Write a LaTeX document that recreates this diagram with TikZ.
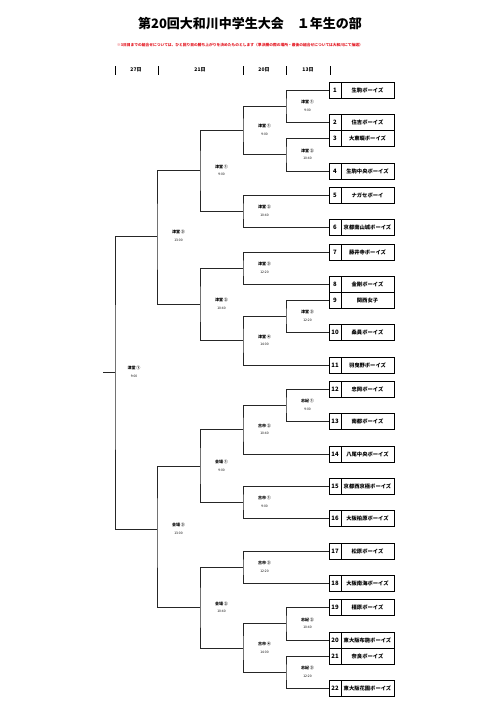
\documentclass[tikz,border=0pt]{standalone}
\usepackage{fontspec}
\usepackage{graphicx}
\newfontfamily\jpfont{Noto Sans CJK JP}
\usetikzlibrary{positioning}
\definecolor{notered}{HTML}{E3141E}
\definecolor{linegray}{HTML}{262626}
\tikzset{
  bracket/.style={linegray,line width=0.8pt},
  headbar/.style={black,line width=0.9pt},
  numcell/.style={draw,line width=0.9pt,minimum width=12,minimum height=16,inner sep=0pt,outer sep=0pt,
    font=\jpfont\bfseries\fontsize{6}{6}\selectfont},
  namecell/.style={draw,line width=0.9pt,minimum width=53,minimum height=16,inner sep=0pt,outer sep=0pt,
    font=\jpfont\bfseries\fontsize{5.3}{5.3}\selectfont},
  matchlbl/.style={align=center,inner sep=0pt,font=\jpfont\bfseries\fontsize{4}{7.5}\selectfont},
  headlbl/.style={inner sep=0pt,font=\jpfont\bfseries\fontsize{5}{5}\selectfont}
}
\newcommand{\mtime}[1]{{\mdseries\fontsize{3.3}{7.5}\selectfont #1}}

\begin{document}
\begin{tikzpicture}[x=1pt,y=-1pt]
\useasboundingbox (0,0) rectangle (500,716);
% title and note
\node[font=\jpfont\bfseries\fontsize{13}{13}\selectfont] (title) at (250,24) {第20回大和川中学生大会　１年生の部};
\node[text=notered,inner sep=0pt,font=\jpfont\bfseries] (note) at (240,45)
  {\resizebox{246pt}{!}{※3日目までの組合せについては、ひと回り目の勝ち上がりを決めたものとします（準決勝の際の場所・最後の組合せについては大和川にて抽選）}};
% day header
\foreach \x in {115,158,243,286,330}
  \draw[headbar] (\x,66) -- (\x,75);
\node[headlbl] (h27) at (136,70) {27日};
\node[headlbl] (h21) at (200,70) {21日};
\node[headlbl] (h20) at (264,70) {20日};
\node[headlbl] (h13) at (308,70) {13日};
% teams
\foreach \i/\y/\name in {1/90/生駒ボーイズ,2/122/住吉ボーイズ,3/138/大東畷ボーイズ,4/171/生駒中央ボーイズ,
  5/195/ナガセボーイ,6/227/京都南山城ボーイズ,7/252/藤井寺ボーイズ,8/284/金剛ボーイズ,9/300/関西女子,
  10/332/桑員ボーイズ,11/365/羽曳野ボーイズ,12/389/忠岡ボーイズ,13/421/南都ボーイズ,14/454/八尾中央ボーイズ,
  15/486/京都西京極ボーイズ,16/518/大阪柏原ボーイズ,17/551/松原ボーイズ,18/583/大阪南海ボーイズ,
  19/607/橿原ボーイズ,20/640/東大阪布施ボーイズ,21/656/奈良ボーイズ,22/688/東大阪花園ボーイズ}{
  \node[numcell] (n\i) at (335,\y) {\i};
  \node[namecell,right=0pt of n\i] (t\i) {\name};
}
% match junctions
\coordinate (a1) at (286,106);
\coordinate (a2) at (286,154.5);
\coordinate (a3) at (286,316);
\coordinate (a4) at (286,405);
\coordinate (a5) at (286,623.5);
\coordinate (a6) at (286,672);
\coordinate (b1) at (243,130);
\coordinate (b2) at (243,211);
\coordinate (b3) at (243,268);
\coordinate (b4) at (243,340.5);
\coordinate (b5) at (243,429.5);
\coordinate (b6) at (243,502);
\coordinate (b7) at (243,567);
\coordinate (b8) at (243,648);
\coordinate (c1) at (200,170.5);
\coordinate (c2) at (200,304);
\coordinate (c3) at (200,466);
\coordinate (c4) at (200,607.5);
\coordinate (d1) at (157,236);
\coordinate (d2) at (157,529);
\coordinate (e1) at (115,372);
\coordinate (champ) at (103,372);
% first round
\draw[bracket] (n1.west) -| (a1) |- (n2.west);
\draw[bracket] (n3.west) -| (a2) |- (n4.west);
\draw[bracket] (n9.west) -| (a3) |- (n10.west);
\draw[bracket] (n12.west) -| (a4) |- (n13.west);
\draw[bracket] (n19.west) -| (a5) |- (n20.west);
\draw[bracket] (n21.west) -| (a6) |- (n22.west);
% second round
\draw[bracket] (a1) -| (b1) |- (a2);
\draw[bracket] (n5.west) -| (b2) |- (n6.west);
\draw[bracket] (n7.west) -| (b3) |- (n8.west);
\draw[bracket] (a3) -| (b4) |- (n11.west);
\draw[bracket] (a4) -| (b5) |- (n14.west);
\draw[bracket] (n15.west) -| (b6) |- (n16.west);
\draw[bracket] (n17.west) -| (b7) |- (n18.west);
\draw[bracket] (a5) -| (b8) |- (a6);
% later rounds
\draw[bracket] (b1) -| (c1) |- (b2);
\draw[bracket] (b3) -| (c2) |- (b4);
\draw[bracket] (b5) -| (c3) |- (b6);
\draw[bracket] (b7) -| (c4) |- (b8);
\draw[bracket] (c1) -| (d1) |- (c2);
\draw[bracket] (c3) -| (d2) |- (c4);
\draw[bracket] (d1) -| (e1) |- (d2);
\draw[bracket] (e1) -- (champ);
% match labels
\foreach \c/\v/\t in {a1/津堂 ①/9:00,a2/津堂 ②/10:40,a3/津堂 ③/12:20,a4/志紀 ①/9:00,a5/志紀 ②/10:40,a6/志紀 ③/12:20,
  b1/津堂 ①/9:00,b2/津堂 ②/10:40,b3/津堂 ③/12:20,b4/津堂 ④/14:00,b5/古市 ②/10:40,b6/古市 ①/9:00,b7/古市 ③/12:20,b8/古市 ④/14:00,
  c1/津堂 ①/9:00,c2/津堂 ②/10:40,c3/会場 ①/9:00,c4/会場 ②/10:40,d1/津堂 ③/13:00,d2/会場 ③/13:00}
  \node[matchlbl,xshift=21.5] (l\c) at (\c) {\v\\\mtime{\t}};
\node[matchlbl,xshift=19] (le1) at (e1) {津堂 ①\\\mtime{9:00}};
\end{tikzpicture}
\end{document}
